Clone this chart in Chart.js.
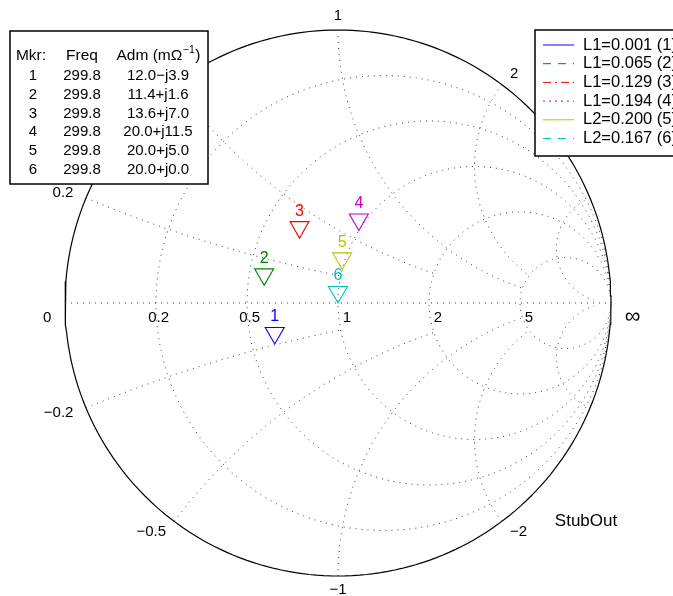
<!DOCTYPE html>
<html>
<head>
<meta charset="utf-8">
<script src="https://cdn.jsdelivr.net/npm/chart.js@4"></script>
<style>
  html, body { margin: 0; padding: 0; background: #fff; }
</style>
</head>
<body>
<canvas id="smith" width="673" height="596"></canvas>
<script>
// marker table (admittance in mOhm^-1)
const markers = [1, 2, 3, 4, 5, 6];
const freq = [299.8, 299.8, 299.8, 299.8, 299.8, 299.8];
const admRe = [12.0, 11.4, 13.6, 20.0, 20.0, 20.0];
const admIm = [-3.9, 1.6, 7.0, 11.5, 5.0, 0.0];
const stubNames = ['L1', 'L1', 'L1', 'L1', 'L2', 'L2'];
const stubLens = [0.001, 0.065, 0.129, 0.194, 0.200, 0.167];
const y0 = 20; // reference admittance, mOhm^-1

// smith chart grid: circle values and where the reactance arcs stop (in r)
const gridValues = [0.2, 0.5, 1, 2, 5];
const gridEnds = [1, 2, 5, 5, 30];
const reactLabels = [0.2, 0.5, 1, 2];

const colors = ['#0000ff', '#008000', '#ff0000', '#bf00bf', '#bfbf00', '#00bfbf'];
const dashes = [[], [8, 7], [8, 4, 2, 4], [2, 4], [], [8, 7]];
const FAMILY = '"Liberation Sans", Arial, sans-serif';
const FONT = '15px ' + FAMILY;

function gamma(r, x) {
    const d = (r + 1) * (r + 1) + x * x;
    return { x: (r * r - 1 + x * x) / d, y: 2 * x / d };
}

function resistanceCircle(r) {
    const c = r / (1 + r), rad = 1 / (1 + r);
    const pts = [];
    for (let i = 0; i <= 240; i++) {
        const t = i / 240 * 2 * Math.PI;
        pts.push({ x: c + rad * Math.cos(t), y: rad * Math.sin(t) });
    }
    return pts;
}

function reactanceArc(x, rEnd) {
    const sEnd = rEnd / (rEnd + 1);
    const pts = [];
    for (let i = 0; i <= 160; i++) {
        const s = sEnd * i / 160;
        pts.push(gamma(s / (1 - s), x));
    }
    return pts;
}

const gridStyle = {
    showLine: true, pointRadius: 0, borderColor: '#3a3a3a', borderWidth: 1,
    borderDash: [1, 5], fill: false, clip: false
};

const datasets = [];
datasets.push({ ...gridStyle, data: [gamma(0, 0), { x: 1, y: 0 }] });
gridValues.forEach((v, i) => {
    datasets.push({ ...gridStyle, data: resistanceCircle(v) });
    datasets.push({ ...gridStyle, data: reactanceArc(v, gridEnds[i]) });
    datasets.push({ ...gridStyle, data: reactanceArc(-v, gridEnds[i]) });
});
datasets.push({
    showLine: true, pointRadius: 0, borderColor: '#000', borderWidth: 1.2,
    fill: false, clip: false, data: resistanceCircle(0)
});
markers.forEach((m, i) => {
    datasets.push({
        label: stubNames[i] + '=' + stubLens[i].toFixed(3) + ' (' + m + ')',
        marker: m,
        data: [gamma(admRe[i] / y0, admIm[i] / y0)],
        borderColor: colors[i], borderDash: dashes[i],
        pointRadius: 0, showLine: false, clip: false
    });
});

function fmtAdm(i) {
    const im = admIm[i];
    return admRe[i].toFixed(1) + (im < 0 ? '\u2212j' : '+j') + Math.abs(im).toFixed(1);
}

const smithDecor = {
    id: 'smithDecor',
    afterDatasetsDraw(chart) {
        const ctx = chart.ctx;
        const xs = chart.scales.x, ys = chart.scales.y;
        const cx = xs.getPixelForValue(0), cy = ys.getPixelForValue(0);
        const R = xs.getPixelForValue(1) - cx;
        ctx.save();
        ctx.font = FONT;
        ctx.fillStyle = '#000';
        ctx.textBaseline = 'middle';

        // resistance labels along the real axis
        ctx.textAlign = 'right';
        gridValues.forEach(r => {
            ctx.fillText(String(r), xs.getPixelForValue(gamma(r, 0).x) + 13, cy + 15);
        });
        ctx.fillText('0', cx - 1.05 * R, cy + 15);
        ctx.textAlign = 'left';
        ctx.font = '22px ' + FAMILY;
        ctx.fillText('\u221e', cx + 1.05 * R, cy + 14);
        ctx.font = FONT;

        // reactance labels around the rim
        reactLabels.forEach(v => [v, -v].forEach(x => {
            const g = gamma(0, x);
            ctx.textAlign = g.x < -0.3 ? 'right' : (g.x > 0.3 ? 'left' : 'center');
            ctx.fillText(x < 0 ? '\u2212' + (-x) : String(x), cx + 1.05 * R * g.x, cy - 1.05 * R * g.y);
        }));

        // triangle markers, apex on the point
        ctx.font = '16px ' + FAMILY;
        chart.data.datasets.forEach((ds, di) => {
            if (!ds.marker) return;
            const p = chart.getDatasetMeta(di).data[0];
            ctx.strokeStyle = ds.borderColor;
            ctx.lineWidth = 1.1;
            ctx.setLineDash([]);
            ctx.beginPath();
            ctx.moveTo(p.x, p.y);
            ctx.lineTo(p.x - 9.5, p.y - 16.5);
            ctx.lineTo(p.x + 9.5, p.y - 16.5);
            ctx.closePath();
            ctx.stroke();
            ctx.fillStyle = ds.borderColor;
            ctx.textAlign = 'center';
            ctx.fillText(String(ds.marker), p.x, p.y - 27);
        });
        ctx.font = FONT;

        // marker table
        ctx.setLineDash([]);
        ctx.fillStyle = '#fff';
        ctx.fillRect(10, 31, 198, 153);
        ctx.strokeStyle = '#000';
        ctx.lineWidth = 1.5;
        ctx.strokeRect(10, 31, 198, 153);
        ctx.fillStyle = '#000';
        ctx.textAlign = 'center';
        ctx.font = '15.5px ' + FAMILY;
        ctx.fillText('Mkr:', 31, 56);
        ctx.fillText('Freq', 82, 56);
        const a = 'Adm (m\u03a9', sup = '\u22121', b = ')';
        const wa = ctx.measureText(a).width, wb = ctx.measureText(b).width;
        ctx.font = '10.5px ' + FAMILY;
        const ws = ctx.measureText(sup).width;
        let sx = 158 - (wa + ws + wb) / 2;
        ctx.textAlign = 'left';
        ctx.fillText(sup, sx + wa + 0.5, 50);
        ctx.font = '15.5px ' + FAMILY;
        ctx.fillText(a, sx, 56);
        ctx.fillText(b, sx + wa + ws + 1, 56);
        ctx.font = FONT;
        ctx.textAlign = 'center';
        markers.forEach((m, i) => {
            const y = 76 + i * 18.7;
            ctx.fillText(String(m), 33, y);
            ctx.fillText(freq[i].toFixed(1), 82, y);
            ctx.fillText(fmtAdm(i), 158, y);
        });

        // legend
        ctx.fillStyle = '#fff';
        ctx.fillRect(535, 30, 150, 126);
        ctx.lineWidth = 1.5;
        ctx.strokeRect(535, 30, 150, 126);
        ctx.textAlign = 'left';
        ctx.font = '16.5px ' + FAMILY;
        let row = 0;
        chart.data.datasets.forEach(ds => {
            if (!ds.marker) return;
            const y = 45 + row * 18.7;
            ctx.strokeStyle = ds.borderColor;
            ctx.lineWidth = 1;
            ctx.setLineDash(ds.borderDash);
            ctx.beginPath();
            ctx.moveTo(543, y);
            ctx.lineTo(574, y);
            ctx.stroke();
            ctx.setLineDash([]);
            ctx.fillStyle = '#000';
            ctx.fillText(ds.label, 583, y);
            row++;
        });

        ctx.font = '17px ' + FAMILY;
        ctx.textAlign = 'center';
        ctx.fillText('StubOut', 586, 521);
        ctx.restore();
    }
};

new Chart(document.getElementById('smith'), {
    type: 'scatter',
    data: { datasets },
    options: {
        responsive: false,
        animation: false,
        devicePixelRatio: 1,
        layout: { padding: { left: 65, right: 62, top: 30, bottom: 20 } },
        scales: {
            x: { type: 'linear', min: -1, max: 1, display: false },
            y: { type: 'linear', min: -1, max: 1, display: false }
        },
        elements: { line: { tension: 0 } },
        plugins: { legend: { display: false }, tooltip: { enabled: false } }
    },
    plugins: [smithDecor]
});
</script>
</body>
</html>
